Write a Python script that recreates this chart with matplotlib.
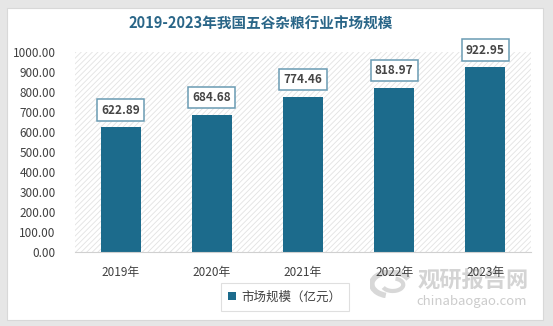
import matplotlib
matplotlib.use("Agg")
import matplotlib.pyplot as plt
from matplotlib.patches import Rectangle, Arc

plt.rcParams['font.family'] = ['Noto Sans CJK SC', 'DejaVu Sans']
plt.rcParams['hatch.color'] = '#e2e2e2'
plt.rcParams['hatch.linewidth'] = 0.6

categories = ["2019年", "2020年", "2021年", "2022年", "2023年"]
values = [622.89, 684.68, 774.46, 818.97, 922.95]
yticks = [0, 100, 200, 300, 400, 500, 600, 700, 800, 900, 1000]
title = "2019-2023年我国五谷杂粮行业市场规模"
legend_label = "市场规模（亿元）"

W, H = 553, 326
fig = plt.figure(figsize=(W/100, H/100), dpi=100)
fig.patch.set_facecolor('#e6e6e6')
card = Rectangle((7/W, 6/H), 536/W, 312/H, transform=fig.transFigure,
                 facecolor='white', edgecolor='#d8d8d8', lw=0.8, zorder=-5)
fig.patches.append(card)

# watermark (drawn beneath the chart)
fig.text(473/W, 1-281/H, "观研报告网", ha='center', va='center', fontsize=16,
         fontweight='bold', color='#d4d4d4', zorder=-2)
fig.text(472/W, 1-301/H, "chinabaogao.com", ha='center', va='center', fontsize=9.5,
         color='#cccccc', zorder=-2)
logo = fig.add_axes([370/W, 1-298/H, 42/W, 28/H], zorder=-2)
logo.set_xlim(-1.2, 1.2)
logo.set_ylim(-1.0, 1.0)
logo.axis('off')
logo.add_patch(Arc((0, 0), 2.2, 1.7, theta1=20, theta2=250, lw=4, color='#d8d8d8'))
logo.add_patch(Arc((0.1, -0.05), 1.2, 0.9, theta1=200, theta2=430, lw=3, color='#d8d8d8'))

ax = fig.add_axes([75/W, 1-252/H, 456/W, 200/H])
ax.set_facecolor('none')
bg = Rectangle((0, 0), 1, 1, transform=ax.transAxes, facecolor='white',
               edgecolor='#e2e2e2', hatch='//////', lw=0, zorder=0)
ax.add_patch(bg)

color = '#1c6b8c'
x = range(len(categories))
ax.bar(x, values, width=0.44, color=color, zorder=2)
for xi, v in zip(x, values):
    ax.annotate(f"{v:.2f}", (xi, v), xytext=(0, 12.5), textcoords='offset points',
                ha='center', va='center', fontsize=8.5, fontweight='bold',
                color='#454545',
                bbox=dict(boxstyle='square,pad=0.35', fc='white', ec='#6a9bb3', lw=1.1),
                zorder=3)
ax.set_xlim(-0.5, len(categories) - 0.5)
ax.set_ylim(0, 1000)
ax.set_yticks(yticks)
ax.set_yticklabels([f"{t:.2f}" for t in yticks], fontsize=8.5, color='#404040')
ax.set_xticks(list(x))
ax.set_xticklabels(categories, fontsize=8.5, color='#404040')
ax.tick_params(axis='y', length=0, pad=14)
ax.tick_params(axis='x', length=0, pad=10)
for s in ['top', 'right', 'left']:
    ax.spines[s].set_visible(False)
ax.spines['bottom'].set_color('#d0d0d0')

fig.text(261/W, 1-24/H, title, ha='center', va='center', fontsize=10.5,
         fontweight='bold', color='#2a6688')

leg = fig.legend([Rectangle((0, 0), 1, 1, fc=color)], [legend_label],
                 loc='center', bbox_to_anchor=(285/W, 1-297/H), fontsize=9,
                 frameon=True, fancybox=False, edgecolor='#d8d8d8',
                 handlelength=0.6, handleheight=0.6, handletextpad=0.5,
                 borderpad=0.6, borderaxespad=0)
leg.get_frame().set_linewidth(0.8)
for t in leg.get_texts():
    t.set_color('#404040')

fig.savefig('out.png', dpi=100)
